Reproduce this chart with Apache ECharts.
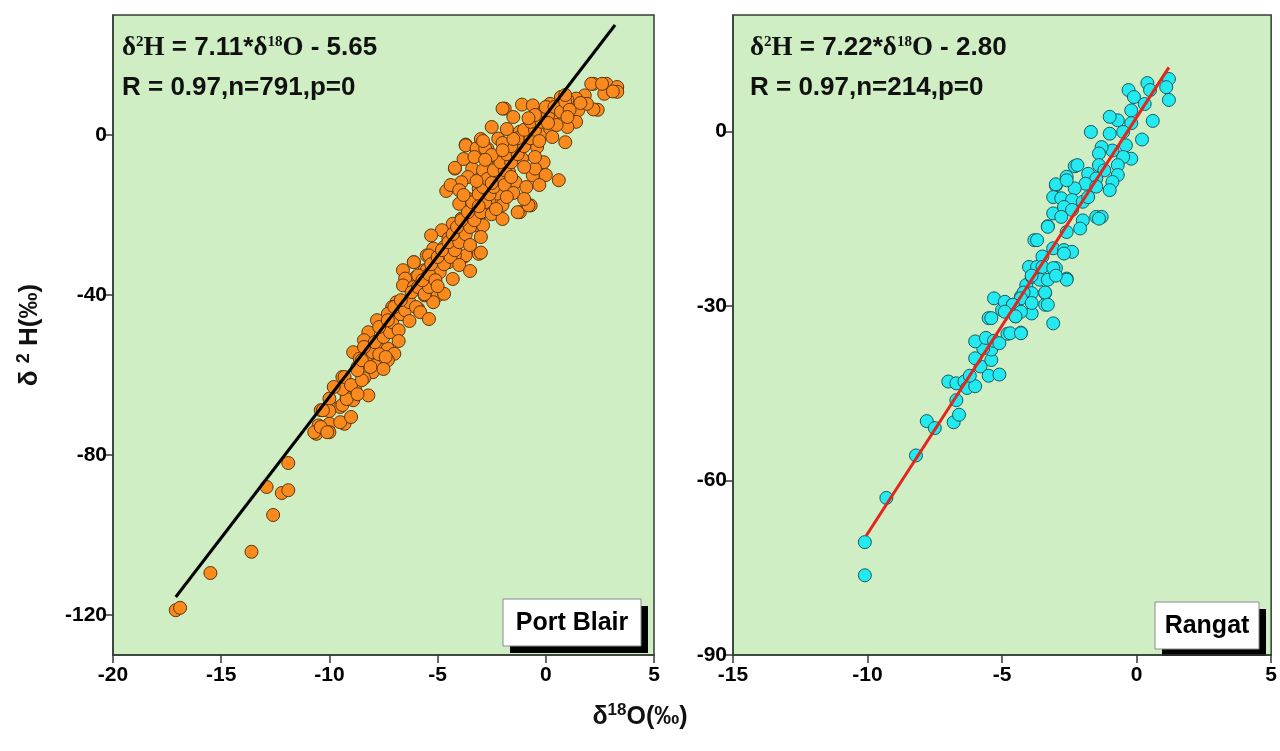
<!DOCTYPE html>
<html>
<head>
<meta charset="utf-8">
<title>d2H vs d18O</title>
<style>
  html, body { margin: 0; padding: 0; background: #fff; }
  #chart { width: 1280px; height: 751px; }
</style>
<script src="https://cdn.jsdelivr.net/npm/echarts@6/dist/echarts.min.js"></script>
</head>
<body>
<div id="chart"></div>
<script>
// Port Blair: [d18O, d2H]
var portBlairPts = [
  [-17.1,-118.8],[-16.9,-118.2],[-15.5,-109.5],[-13.6,-104.2],[-12.9,-88.0],[-12.6,-95.0],[-12.2,-89.5],[-11.9,-88.8],[-11.9,-82.0],
  [-6.6,-33.8],[-6.1,-31.8],[-5.5,-30.1],[-5.0,-31.3],[-4.5,-30.9],[-3.8,-30.5],[-3.1,-29.7],[-4.9,-33.4],[-5.6,-33.8],[-6.0,-35.5],
  [-6.5,-35.9],[-6.6,-37.6],[-6.1,-38.0],[-5.6,-40.1],[-5.0,-40.1],[-4.7,-39.7],[-5.2,-41.8],[-5.9,-43.4],[-6.6,-44.7],[-6.9,-41.8],
  [-7.1,-43.0],[-7.3,-44.7],[-7.8,-46.3],[-7.5,-48.8],[-7.1,-47.2],[-8.2,-49.3],[-8.4,-51.3],[-7.8,-53.0],[-8.3,-53.4],[-7.3,-53.4],
  [-7.0,-54.7],[-8.9,-54.3],[-8.6,-55.9],[-8.2,-56.8],[-7.9,-57.6],[-7.3,-56.3],[-8.7,-58.0],[-8.0,-59.3],[-9.4,-60.5],[-8.4,-60.8],
  [-9.1,-62.6],[-8.8,-63.8],[-9.2,-65.5],[-8.2,-65.1],[-8.9,-66.3],[-10.0,-65.9],[-10.4,-68.8],[-9.5,-68.0],[-10.0,-72.2],[-9.3,-72.2],
  [-10.5,-72.6],[-10.6,-74.7],[-10.0,-74.3],
  [2.2,12.8],[2.8,12.8],[3.3,12.0],[3.3,10.8],[2.7,10.3],[2.4,6.3],[1.8,9.9],[1.4,9.1],[1.0,8.7],[0.7,9.5],[0.2,7.8],[0.5,7.0],
  [1.5,6.2],[1.4,3.3],[1.0,2.0],[0.9,-1.8],[0.6,-11.3],[-1.9,6.6],[-1.1,7.6],[-0.6,7.4],[-0.2,5.3],[0.3,4.1],[-0.8,2.0],[-0.1,0.3],
  [0.2,1.6],[-1.2,0.8],[-0.8,-1.8],[-0.4,-3.0],[-1.4,-3.8],[-1.7,-5.9],[-2.2,-0.9],[-2.7,-3.4],[-3.2,-3.4],[-3.7,-2.4],[-4.2,-8.4],
  [-3.4,-8.4],[-2.9,-8.8],[-2.2,-7.6],[-2.2,-10.1],[-1.7,-9.3],[-1.4,-11.8],[-0.6,-10.1],[-0.1,-6.8],[-0.5,-8.4],[-1.1,-5.9],
  [-3.6,-10.5],[-3.9,-11.8],[-3.1,-13.4],[-2.2,-14.7],[-2.6,-16.8],[-3.6,-15.9],[-4.0,-17.2],[-1.2,-19.3],[-0.7,-17.6],[-2.9,-19.3],
  [-3.4,-19.3],[-3.9,-20.9],[-3.3,-22.6],[-2.9,-22.6],[-4.3,-22.2],[-4.8,-23.8],[-5.3,-25.1],[-4.5,-25.9],[-3.9,-25.5],[-4.7,-28.0],
  [-5.2,-28.4],[-3.0,-29.4],[-3.7,-30.1],[-4.2,-30.1],[-5.0,-31.3],[-5.4,-30.1],[-4.5,-31.8],[-6.1,-31.8],[-5.5,-33.8],[-4.9,-34.3],
  [-5.9,-35.1],[-3.7,-2.6],[-3.2,-3.3],[-2.8,-3.4],[-4.2,-8.2],[-1.3,-19.3],[-0.8,-17.6],[2.1,12.8],[2.6,12.8],[3.1,10.9],[2.2,6.4],
  [-2.0,6.6],
  [-10.7,-74.3],[-10.4,-73.0],[-10.1,-74.3],[-10.0,-69.0],[-10.3,-68.8],[-9.5,-71.8],[-9.4,-67.5],[-9.2,-66.0],[-9.4,-63.5],[-9.3,-60.5],
  [-9.0,-62.5],[-8.7,-64.8],[-8.5,-61.3],[-8.7,-58.8],[-8.5,-56.3],[-8.1,-58.0],[-8.0,-54.3],[-8.4,-53.0],[-7.7,-54.8],[-7.4,-55.5],
  [-7.9,-51.8],[-7.5,-50.5],[-7.2,-49.3],[-7.7,-48.0],[-7.1,-46.8],[-6.8,-48.8],[-7.3,-46.3],[-6.7,-44.8],[-7.0,-43.0],[-6.5,-43.8],
  [-6.3,-41.8],[-6.7,-41.3],[-6.0,-43.0],[-5.8,-44.3],[-6.2,-39.3],[-5.9,-38.0],[-5.6,-39.8],[-5.4,-38.0],[-5.7,-36.3],[-5.4,-34.8],
  [-5.1,-36.3],[-5.3,-32.3],[-4.7,-32.3],[-5.0,-30.5],[-4.4,-30.5],[-4.8,-28.8],[-4.2,-28.8],[-4.5,-26.8],[-4.0,-26.8],[-4.3,-24.8],
  [-3.7,-24.8],[-4.1,-23.0],[-3.5,-23.0],[-3.9,-21.3],[-3.3,-21.3],[-3.6,-19.3],[-3.0,-19.3],[-3.4,-16.8],[-2.8,-16.8],[-3.1,-14.8],
  [-2.6,-14.8],[-2.9,-13.0],[-2.4,-13.0],[-2.7,-11.0],[-2.1,-11.0],[-2.4,-8.8],[-1.9,-8.8],[-2.1,-6.8],[-1.6,-6.8],[-1.8,-4.8],
  [-1.3,-4.8],[-1.6,-2.8],[-1.0,-2.8],[-1.3,-0.8],[-0.7,-0.8],[-1.0,1.3],[-0.5,1.3],[-0.7,3.3],[-0.2,3.3],[-0.5,5.0],[0.1,5.0],
  [0.0,7.0],[0.4,7.0],[0.7,5.8],[0.9,8.3],[1.1,6.3],
  [-4.6,-14.0],[-4.4,-12.5],[-4.0,-13.8],[-3.8,-6.0],[-3.3,-5.5],[-2.5,-5.0],[-2.0,-2.0],[-1.5,-1.0],[-1.8,1.5],[-0.3,-1.5],[0.3,-0.5],
  [0.5,2.5],[-0.5,-5.5],[-1.0,-8.0],[-1.9,-12.5],[-1.5,-14.5],[-2.0,-17.5],[-2.5,-19.8],[-2.0,-21.0],[-3.0,-25.5],[-3.5,-27.5],
  [-4.0,-32.5],[-3.5,-34.0],[-4.3,-36.0],[-5.0,-37.8],[-6.3,-46.5],[-5.4,-46.0],[-6.8,-51.5],[-7.5,-58.5],[-9.8,-63.0],[-9.0,-70.5],
  [-1.5,4.5],[-2.5,2.0],[-3.0,-1.0],[-2.8,-6.2],[-0.9,-13.0],[0.0,-10.0],
  [-3.8,-15.0],[-3.2,-11.5],[-2.5,-12.0],[-1.8,-15.5],[-1.0,-16.0],[-2.3,-18.5],[-3.1,-17.8],[-1.6,-10.5],[-0.3,-12.5],[-2.0,-3.8],
  [-2.9,-1.5],[-0.8,4.2],[0.1,3.0],[1.0,4.5],[1.9,7.8],[0.9,10.0],[1.6,8.0]
];
var portBlairFit = [[-17.1,-115.5],[3.2,27.5]];

// Rangat: [d18O, d2H]
var rangatPts = [
  [-10.1,-70.6],[-10.1,-76.3],[-9.3,-63.0],[-8.2,-55.7],[-7.8,-49.8],[-7.5,-51.0],[-6.8,-50.0],[-6.6,-48.7],[-6.7,-46.2],[-7.0,-43.0],
  [-6.7,-43.3],[-6.4,-43.0],[-6.3,-44.1],[-6.0,-43.8],[-6.2,-42.0],[-5.8,-40.4],[-5.5,-42.0],[-5.1,-41.8],[-6.0,-39.0],[-5.4,-39.3],
  [-5.4,-37.5],[-5.7,-37.3],[-6.0,-36.1],[-5.6,-35.5],[-5.3,-36.0],[-5.1,-36.4],[-4.8,-34.8],[-4.3,-34.6],[-5.5,-32.1],[-5.3,-28.7],
  [-5.0,-30.7],[-4.9,-29.3],[-4.6,-29.8],[-4.5,-31.8],[-3.9,-31.3],[-4.3,-28.4],[-4.1,-26.4],[-3.9,-27.8],[-3.9,-25.0],[-3.6,-25.5],
  [-4.0,-23.3],[-3.7,-23.3],[-3.4,-27.8],[-3.4,-29.8],
  [1.2,9.0],[1.1,7.6],[1.2,5.4],[0.4,8.3],[0.5,7.1],[-0.3,7.1],[-0.1,5.9],[0.3,4.7],[0.6,1.8],[-0.2,3.6],[-0.2,1.4],[-0.7,1.9],
  [-1.0,2.5],[0.2,-1.4],[-1.7,-0.1],[-1.0,-0.4],[-0.5,-0.1],[-0.4,-2.4],[-0.2,-4.7],[-0.5,-4.4],[-0.9,-3.3],[-1.3,-2.7],[-1.4,-3.8],
  [-1.4,-5.8],[-1.2,-6.7],[-0.7,-5.8],[-0.7,-7.5],[-0.9,-8.7],[-1.0,-10.1],[-1.8,-7.3],[-2.3,-6.0],[-1.5,-8.1],[-1.9,-9.0],[-1.5,-9.5],
  [-2.3,-9.8],[-2.6,-7.8],[-3.0,-9.3],[-3.1,-11.3],[-2.8,-11.5],[-2.4,-11.8],[-2.0,-12.1],[-1.8,-11.3],[-3.1,-14.1],[-2.7,-13.0],
  [-2.4,-13.5],[-2.0,-15.3],[-1.5,-14.7],[-1.3,-14.7],[-2.1,-16.7],[-2.8,-14.7],[-3.3,-16.3],[-2.6,-17.3],[-3.8,-18.7],[-3.1,-20.1],
  [-2.7,-20.4],[-2.4,-20.7],[-3.5,-21.5],[-3.0,-23.5],[-2.6,-25.3],
  [-2.2,-5.8],[-3.0,-9.1],[-2.6,-8.4],[-1.4,-15.0],[-3.3,-16.4],[-3.7,-18.7],[-2.7,-21.0],[-2.6,-25.5],[-3.1,-33.0],[-3.5,-23.3],
  [-3.1,-23.5],[-3.3,-25.5],[-3.0,-24.8],[-3.9,-24.8],[-4.2,-27.7],[-3.4,-27.7],[-3.3,-29.8],[-4.3,-28.7],[-3.9,-29.5],[-4.6,-29.8],
  [-4.9,-31.0],[-4.3,-31.0],[-4.5,-31.8],[-5.4,-32.1],[-4.7,-34.7],[-4.3,-34.7]
];
var rangatFit = [[-10.05,-69.5],[1.2,11.0]];

var leftXTicks = [-20, -15, -10, -5, 0, 5];
var leftYTicks = [-120, -80, -40, 0];
var rightXTicks = [-15, -10, -5, 0, 5];
var rightYTicks = [-90, -60, -30, 0];

var sans = '"Liberation Sans", Arial, sans-serif';
var serif = '"Liberation Serif", "Times New Roman", serif';
var frameColor = '#323c32';

var chart = echarts.init(document.getElementById('chart'));

function xAxisOf(idx, min, max, ticks) {
  return {
    type: 'value', gridIndex: idx, min: min, max: max,
    axisLine: { show: true, onZero: false, lineStyle: { color: frameColor, width: 1.5 } },
    axisTick: { show: true, length: 8, customValues: ticks, lineStyle: { color: frameColor, width: 1.5 } },
    axisLabel: { customValues: ticks, color: '#000', fontFamily: sans, fontWeight: 'bold', fontSize: 21, margin: 10 },
    splitLine: { show: false }
  };
}
function yAxisOf(idx, min, max, ticks) {
  return {
    type: 'value', gridIndex: idx, min: min, max: max,
    axisLine: { show: true, onZero: false, lineStyle: { color: frameColor, width: 1.5 } },
    axisTick: { show: true, length: 8, customValues: ticks, lineStyle: { color: frameColor, width: 1.5 } },
    axisLabel: { customValues: ticks, color: '#000', fontFamily: sans, fontWeight: 'bold', fontSize: 21, margin: 6 },
    splitLine: { show: false }
  };
}

var eqRich = {
  g: { fontFamily: serif, fontSize: 27, color: '#111', lineHeight: 40 },
  b: { fontFamily: sans, fontSize: 26, fontWeight: 'bold', color: '#111', lineHeight: 40 },
  s: { fontFamily: serif, fontSize: 15, color: '#111', lineHeight: 15, verticalAlign: 'top', padding: [7, 0, 0, 0] }
};
function eqTitle(left, slope, icpt, n) {
  return {
    left: left, top: 28, padding: 0,
    text: '{g|δ}{s|2}{g|H}{b| = ' + slope + '*}{g|δ}{s|18}{g|O}{b| - ' + icpt + '}\n{b|R = 0.97,n=' + n + ',p=0}',
    textStyle: { rich: eqRich }
  };
}

function siteBox(x, y, w, h, label) {
  return {
    type: 'group', x: x, y: y,
    children: [
      { type: 'rect', shape: { x: 7, y: 7, width: w, height: h }, style: { fill: '#000' } },
      { type: 'rect', shape: { x: 0, y: 0, width: w, height: h }, style: { fill: '#fff', stroke: '#8a8a8a', lineWidth: 1 } },
      { type: 'text', style: { x: w / 2, y: h / 2 + 1, text: label, font: 'bold 25px ' + sans, fill: '#000', textAlign: 'center', textVerticalAlign: 'middle' } }
    ]
  };
}

var option = {
  backgroundColor: '#fff',
  animation: false,
  title: [
    eqTitle(122, '7.11', '5.65', 791),
    eqTitle(750, '7.22', '2.80', 214),
    {
      left: 'center', top: 700, padding: 0,
      text: '{a|δ}{s|18}{a|O(‰)}',
      textStyle: { rich: {
        a: { fontFamily: sans, fontSize: 25, fontWeight: 'bold', color: '#111', lineHeight: 34 },
        s: { fontFamily: sans, fontSize: 17, fontWeight: 'bold', color: '#111', lineHeight: 17, verticalAlign: 'top', padding: [2, 0, 0, 0] }
      } }
    }
  ],
  grid: [
    { left: 113, top: 15, width: 541, height: 640, show: true, backgroundColor: '#cfeec4', borderColor: frameColor, borderWidth: 1.5 },
    { left: 733, top: 15, width: 540, height: 640, show: true, backgroundColor: '#cfeec4', borderColor: frameColor, borderWidth: 1.5 }
  ],
  xAxis: [
    xAxisOf(0, -20, 5, leftXTicks),
    xAxisOf(1, -15, 5, rightXTicks)
  ],
  yAxis: [
    Object.assign(yAxisOf(0, -130, 30, leftYTicks), {
      name: '{a|δ }{s|2}{a| H(‰)}', nameLocation: 'middle', nameRotate: 90, nameGap: 66,
      nameTextStyle: { rich: {
        a: { fontFamily: sans, fontSize: 26, fontWeight: 'bold', color: '#111', lineHeight: 34 },
        s: { fontFamily: sans, fontSize: 18, fontWeight: 'bold', color: '#111', lineHeight: 18, verticalAlign: 'top', padding: [2, 0, 0, 0] }
      } }
    }),
    yAxisOf(1, -90, 20, rightYTicks)
  ],
  graphic: [
    siteBox(503, 599, 138, 47, 'Port Blair'),
    siteBox(1155, 602, 104, 47, 'Rangat')
  ],
  series: [
    {
      type: 'line', xAxisIndex: 0, yAxisIndex: 0, data: portBlairFit, symbol: 'none',
      lineStyle: { color: '#000', width: 3 }, silent: true
    },
    {
      type: 'scatter', xAxisIndex: 0, yAxisIndex: 0, data: portBlairPts, symbolSize: 13,
      itemStyle: { color: '#fb8a1e', borderColor: '#5a3608', borderWidth: 1, opacity: 1 }
    },
    {
      type: 'line', xAxisIndex: 1, yAxisIndex: 1, data: rangatFit, symbol: 'none',
      lineStyle: { color: '#e3261c', width: 3 }, silent: true
    },
    {
      type: 'scatter', xAxisIndex: 1, yAxisIndex: 1, data: rangatPts, symbolSize: 13,
      itemStyle: { color: '#22eaf0', borderColor: '#1b5a62', borderWidth: 1, opacity: 1 }
    }
  ]
};

chart.setOption(option);
</script>
</body>
</html>
